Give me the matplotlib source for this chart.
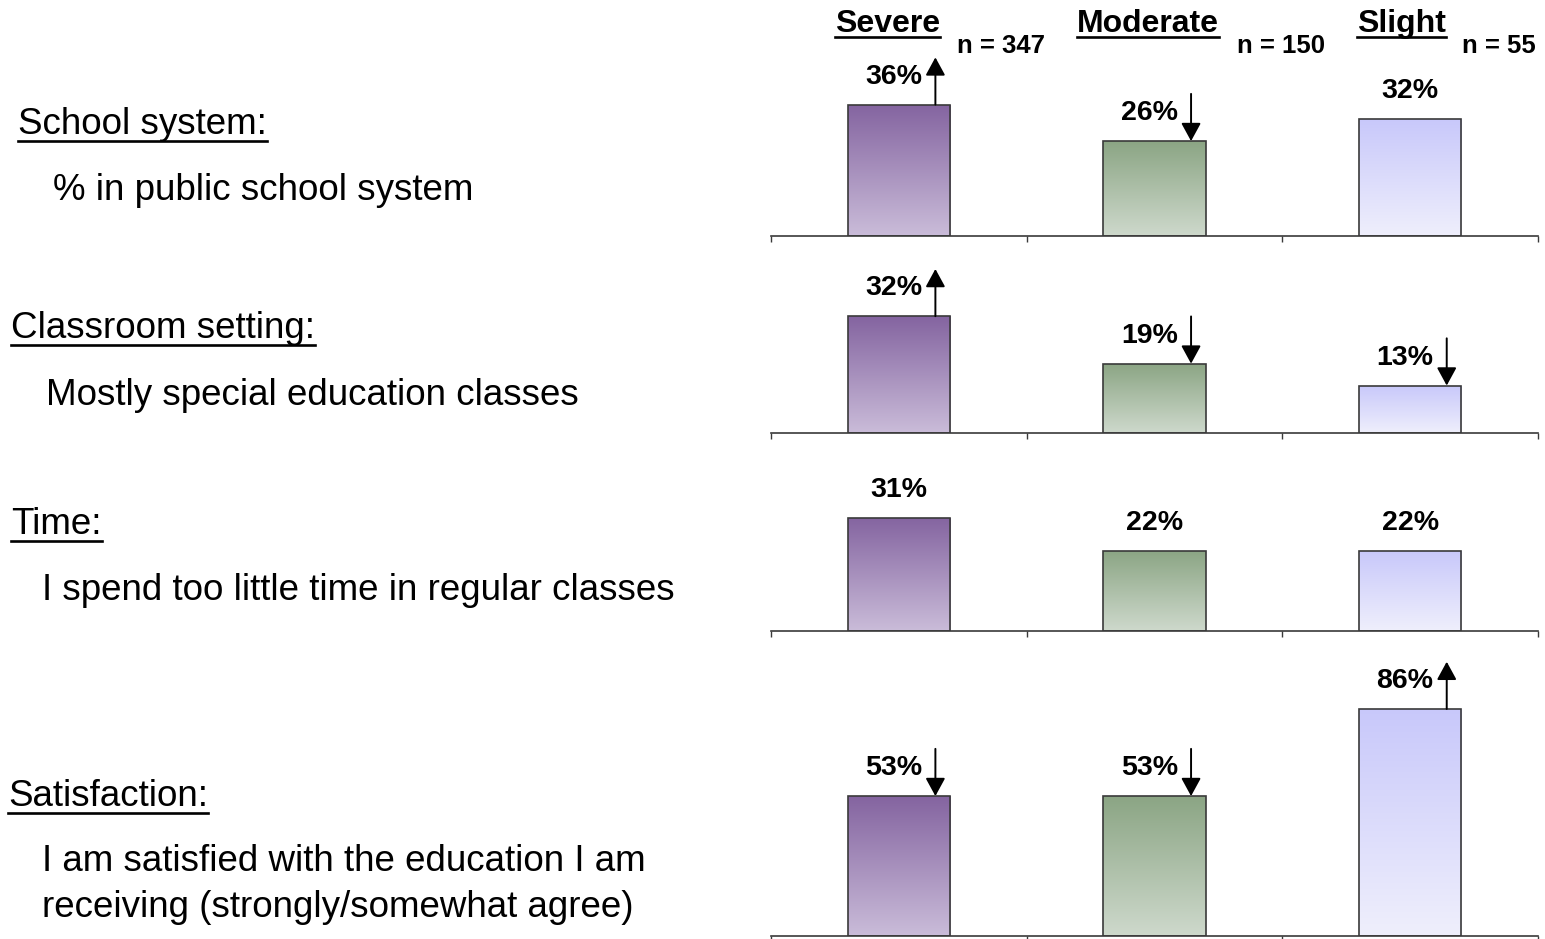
import numpy as np
import matplotlib.pyplot as plt
from matplotlib.colors import LinearSegmentedColormap
from matplotlib.lines import Line2D

plt.rcParams["font.family"] = ["Liberation Sans", "DejaVu Sans"]

W, H, DPI = 1545, 939, 100

# Gruppen (Schweregrad) und Stichprobengrößen
groups = ["Severe", "Moderate", "Slight"]
group_n = ["n = 347", "n = 150", "n = 55"]

# Anteile in % je Frage
school_system = [36, 26, 32]
classroom_setting = [32, 19, 13]
time_regular = [31, 22, 22]
satisfaction = [53, 53, 86]

# Signifikanz-Pfeile: +1 höher, -1 niedriger, 0 kein Pfeil
school_system_sig = [1, -1, 0]
classroom_setting_sig = [1, -1, -1]
time_regular_sig = [0, 0, 0]
satisfaction_sig = [-1, -1, 1]

titles = ["School system:", "Classroom setting:", "Time:", "Satisfaction:"]
notes = [
    ["% in public school system"],
    ["Mostly special education classes"],
    ["I spend too little time in regular classes"],
    ["I am satisfied with the education I am", "receiving (strongly/somewhat agree)"],
]

panels = [
    (school_system, school_system_sig),
    (classroom_setting, classroom_setting_sig),
    (time_regular, time_regular_sig),
    (satisfaction, satisfaction_sig),
]

# Layout in Pixeln (von oben)
ax_left, ax_right = 771, 1538
baseline_px = [236, 433, 631, 936]
ymax = [40, 40, 40, 100]
px_per_pct = [3.65, 3.65, 3.65, 2.64]
title_pos = [(18, 121), (11, 325), (11, 521), (8, 793)]
note_pos = [[(53, 187)], [(46, 392)], [(42, 587)], [(42, 858), (42, 904)]]
header_pos = [(835, 1077, 1357), (957, 1237, 1462)]

# Farbverläufe: unten hell, oben dunkel
bar_cmaps = [
    LinearSegmentedColormap.from_list("sev", ["#CABCD9", "#8464A0"]),
    LinearSegmentedColormap.from_list("mod", ["#CED9CC", "#8BA584"]),
    LinearSegmentedColormap.from_list("sli", ["#EFEFFC", "#C8C8FA"]),
]
edge = "#3A3A3A"

fig = plt.figure(figsize=(W / DPI, H / DPI), dpi=DPI)
renderer = fig.canvas.get_renderer()


def fig_text(x, y, s, underline=None, **kw):
    t = fig.text(x / W, 1 - y / H, s, ha="left", va="baseline", **kw)
    if underline is not None:
        bb = t.get_window_extent(renderer)
        yl = (H - y - underline) / H
        fig.add_artist(Line2D([bb.x0 / W, bb.x1 / W], [yl, yl],
                              transform=fig.transFigure, color="black", lw=1.9))
    return t


# Kopfzeile
for g, n, xg, xn in zip(groups, group_n, header_pos[0], header_pos[1]):
    fig_text(xg, 32, g, underline=4.5, fontsize=23, fontweight="bold")
    fig_text(xn, 53, n, fontsize=18.5, fontweight="bold")

x = np.arange(len(groups))
gradient = np.linspace(0, 1, 256).reshape(-1, 1)

for i, (vals, sig) in enumerate(panels):
    # Beschriftung links
    tx, ty = title_pos[i]
    fig_text(tx, ty + 13, titles[i], underline=6.5, fontsize=26.5)
    for line, (nx, ny) in zip(notes[i], note_pos[i]):
        fig_text(nx, ny + 13, line, fontsize=26.5)

    height_px = ymax[i] * px_per_pct[i]
    ax = fig.add_axes([ax_left / W, (H - baseline_px[i]) / H,
                       (ax_right - ax_left) / W, height_px / H])
    ax.set_facecolor("none")
    ax.set_xlim(-0.5, 2.5)
    ax.set_ylim(0, ymax[i])

    bars = ax.bar(x, vals, width=0.4, facecolor="none", edgecolor=edge,
                  linewidth=1.2, zorder=3)
    for b, cmap in zip(bars, bar_cmaps):
        x0, w, h = b.get_x(), b.get_width(), b.get_height()
        im = ax.imshow(gradient, cmap=cmap, origin="lower", aspect="auto",
                       extent=(x0, x0 + w, 0, h), zorder=2)
        im.set_clip_path(b)
    ax.set_xlim(-0.5, 2.5)
    ax.set_ylim(0, ymax[i])

    for xi, v, s in zip(x, vals, sig):
        dx = -0.02 if s != 0 else 0.0
        ax.annotate(f"{v}%", xy=(xi + dx, v), xytext=(0, 20), textcoords="offset points",
                    ha="center", va="center", fontsize=20.5, fontweight="bold",
                    annotation_clip=False)
        if s == 0:
            continue
        style = "<|-" if s > 0 else "-|>"
        ax.annotate("", xy=(xi + 0.143, v), xytext=(0, 34), textcoords="offset points",
                    annotation_clip=False,
                    arrowprops=dict(arrowstyle=f"{style},head_length=0.55,head_width=0.3",
                                    mutation_scale=20, color="black", lw=1.4,
                                    shrinkA=0, shrinkB=0))

    for side in ("top", "right", "left"):
        ax.spines[side].set_visible(False)
    ax.spines["bottom"].set_color(edge)
    ax.spines["bottom"].set_linewidth(1.2)
    ax.set_yticks([])
    ax.set_xticks([-0.5, 0.5, 1.5, 2.5])
    ax.set_xticklabels([])
    ax.tick_params(axis="x", direction="out", length=4.5, width=1, color=edge)

fig.savefig("out.png", dpi=DPI)
